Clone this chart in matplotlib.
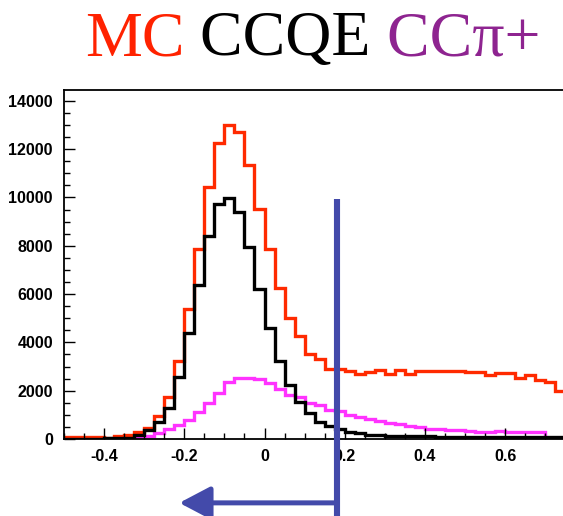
import numpy as np
import matplotlib
matplotlib.use('Agg')
import matplotlib.pyplot as plt
from matplotlib.ticker import MultipleLocator, FuncFormatter

# histogram binning: 50 bins of 0.025 from -0.5
x_lo = -0.5
bin_w = 0.025
n_bins = 50

# MC total (red)
mc_total = [80, 80, 80, 80, 60, 120, 180, 270, 450, 960,
            1720, 3230, 5390, 7870, 10420, 12260, 13020, 12720, 11330, 9540,
            7870, 6260, 5010, 4250, 3540, 3300, 2880, 2880, 2830, 2690,
            2790, 2860, 2690, 2860, 2700, 2830, 2830, 2830, 2830, 2830,
            2760, 2760, 2650, 2720, 2720, 2510, 2650, 2440, 2370, 2000]
# CCQE (black)
ccqe = [0, 0, 0, 0, 30, 30, 60, 170, 370, 700,
        1300, 2580, 4390, 6380, 8420, 9710, 9960, 9390, 7940, 6190,
        4600, 3240, 2240, 1550, 1060, 720, 540, 400, 310, 240,
        170, 170, 130, 120, 120, 110, 110, 100, 100, 100,
        100, 90, 90, 90, 90, 80, 80, 80, 80, 80]
# CC pi+ (magenta)
ccpip = [0, 0, 0, 0, 0, 0, 0, 40, 130, 240,
         420, 560, 780, 1100, 1500, 1910, 2380, 2540, 2540, 2470,
         2320, 2060, 1820, 1720, 1480, 1410, 1200, 1170, 1000, 920,
         810, 760, 680, 640, 540, 480, 400, 400, 370, 370,
         330, 290, 290, 330, 290, 290, 290, 290, 0, 0]

cut_value = 0.18      # selection cut, keep events to the left
arrow_tip = -0.2125

edges = x_lo + bin_w * np.arange(n_bins + 1)

blue = '#434aaa'
tick_font = ['Liberation Sans Narrow', 'Liberation Sans', 'DejaVu Sans']

fig = plt.figure(figsize=(5.63, 5.16), dpi=100)
ax = fig.add_axes([64 / 563, 77 / 516, 1.0 - 64 / 563 + 0.004, 349 / 516])

ax.stairs(ccpip, edges, color='#ff33ff', lw=2.4)
ax.stairs(mc_total, edges, color='#ff2a00', lw=2.4)
ax.stairs(ccqe, edges, color='black', lw=2.4)

ax.set_xlim(-0.5, 0.75)
ax.set_ylim(0, 14450)

ax.xaxis.set_major_locator(MultipleLocator(0.2))
ax.xaxis.set_minor_locator(MultipleLocator(0.05))
ax.yaxis.set_major_locator(MultipleLocator(2000))
ax.yaxis.set_minor_locator(MultipleLocator(500))
ax.xaxis.set_major_formatter(FuncFormatter(lambda v, p: '0' if abs(v) < 1e-9 else f'{v:.1f}'))
ax.yaxis.set_major_formatter(FuncFormatter(lambda v, p: f'{v:.0f}'))

ax.tick_params(which='both', direction='in', width=1.0, top=False, right=False)
ax.tick_params(which='major', length=8)
ax.tick_params(which='minor', length=4.5)
ax.tick_params(axis='y', pad=8)
ax.tick_params(axis='x', pad=7)
for lab in ax.get_xticklabels() + ax.get_yticklabels():
    lab.set_family(tick_font)
    lab.set_fontweight('bold')
    lab.set_fontsize(11.5)

for s in ax.spines.values():
    s.set_linewidth(1.3)
ax.spines['right'].set_visible(False)

# cut line and arrow
trans = ax.get_xaxis_transform()
ax.plot([cut_value, cut_value], [0.688, -0.23], transform=trans, color=blue,
        lw=4.4, solid_capstyle='butt', clip_on=False, zorder=5)
ax.annotate('', xy=(arrow_tip, -0.183), xytext=(cut_value, -0.183),
            xycoords=trans, textcoords=trans, annotation_clip=False,
            arrowprops=dict(arrowstyle='-|>,head_length=0.95,head_width=0.5',
                            color=blue, lw=3.6, mutation_scale=20,
                            shrinkA=0, shrinkB=0))

# coloured title built from pieces
pieces = [('MC', '#ff2200'), (' CCQE', 'black'), (' CC\u03c0+', '#8e2490')]
fig.canvas.draw()
renderer = fig.canvas.get_renderer()
x = 85 / 563
for txt, col in pieces:
    t = fig.text(x, 1 - 55 / 516, txt, color=col, fontsize=46,
                 family=['Liberation Serif', 'DejaVu Serif'], va='baseline', ha='left')
    bb = t.get_window_extent(renderer)
    x += bb.width / fig.bbox.width

fig.savefig('out.png', dpi=100)
